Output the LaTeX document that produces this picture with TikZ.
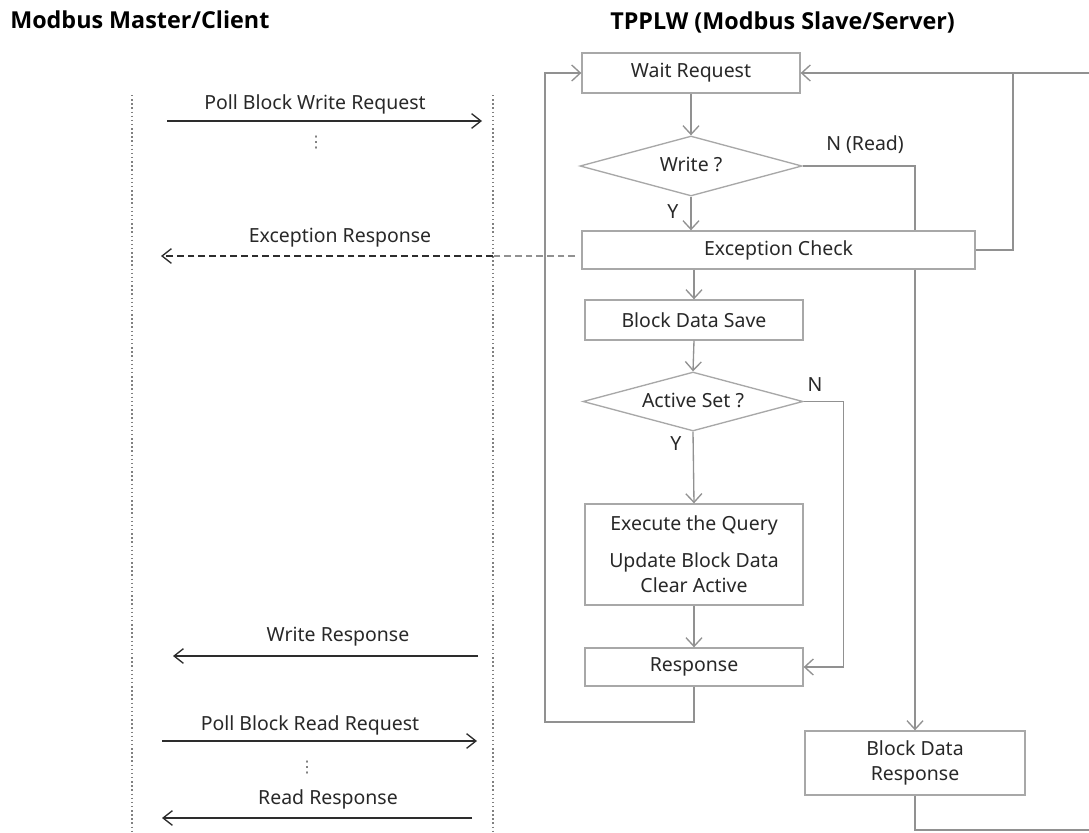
\documentclass[tikz,border=0pt]{standalone}
\usepackage{fontspec}
\setmainfont{Noto Sans}
\newfontfamily\ttlfont{Open Sans}
\newfontfamily\dvfont{DejaVu Sans}
\usetikzlibrary{arrows.meta,shapes.geometric}
\definecolor{boxgray}{RGB}{168,168,168}
\definecolor{flowgray}{RGB}{145,145,145}
\definecolor{ink}{RGB}{40,40,40}
\definecolor{seq}{RGB}{45,45,45}
\def\px{0.75pt}
\begin{document}
\begin{tikzpicture}[x=0.75pt,y=-0.75pt,
  lbl/.style={font=\fontsize{14.6}{18.75}\selectfont,text=ink,inner sep=0pt},
  ttl/.style={font=\ttlfont\bfseries\fontsize{17.5}{20}\selectfont,text=black,inner sep=0pt,anchor=west},
  box/.style={draw=boxgray,line width=1pt,fill=white,font=\fontsize{14.6}{18.75}\selectfont,text=ink,inner sep=0pt,align=center},
  dia/.style={box,shape=diamond,aspect=3.7},
  flowline/.style={draw=flowgray,line width=1pt},
  flow/.style={flowline,-{Straight Barb[length=6.5pt,width=12pt,line width=1pt]}},
  msg/.style={draw=seq,line width=1pt,-{Straight Barb[length=7pt,width=11pt,line width=1pt]}},
  life/.style={draw=gray,line width=1.1pt,dotted},
  vdot/.style={font=\dvfont\fontsize{12}{12}\selectfont,text=gray!80!black,inner sep=0pt}
]
\fill[white] (0,0) rectangle (1089,832);
\useasboundingbox (0,0) rectangle (1089,832);

% titles
\node[ttl] (t1) at (10,20) {Modbus Master/Client};
\node[ttl] (t2) at (610,22) {TPPLW (Modbus Slave/Server)};

% lifelines
\coordinate (l1t) at (132,95); \coordinate (l1b) at (132,832);
\coordinate (l2t) at (493,95); \coordinate (l2b) at (493,832);
\draw[life] (l1t) -- (l1b);
\draw[life] (l2t) -- (l2b);

% flowchart nodes
\node[box,minimum width=218*\px,minimum height=40*\px] (wait) at (691,73) {Wait Request};
\node[dia,minimum width=222*\px,minimum height=60*\px] (write) at (691,166) {\raisebox{3pt}{Write ?}};
\node[box,minimum width=393*\px,minimum height=38*\px] (exc) at (778.5,250) {Exception Check};
\node[box,minimum width=218*\px,minimum height=40*\px] (save) at (694,320) {Block Data Save};
\node[dia,minimum width=220*\px,minimum height=59*\px] (act) at (693,401.5) {\raisebox{2pt}{Active Set ?}};
\node[box,minimum width=218*\px,minimum height=101*\px] (exe) at (694,554.5) {Execute the Query\\[9pt]Update Block Data\\Clear Active};
\node[box,minimum width=218*\px,minimum height=38*\px] (resp) at (694,667) {Response};
\node[box,minimum width=220*\px,minimum height=64*\px] (bdr) at (915,763) {Block Data\\Response};

\coordinate (rt) at (1013,73);
\coordinate (rtop) at (1089,73);
\coordinate (rbot) at (1089,830);
\coordinate (lb) at (545,722);

% flow connectors
\draw[flow] (wait.south) -- (write.north);
\draw[flow] (write.south) -- (exc.north -| write.south);
\draw[flowline] (write.east) -| (exc.north -| bdr.north);
\draw[flow] (exc.south -| bdr.north) -- (bdr.north);
\draw[flow] (exc.south -| save.north) -- (save.north);
\draw[flow] (save.south) -- (act.north);
\draw[flow] (act.south) -- (exe.north);
\draw[flow] (exe.south) -- (resp.north);
\draw[flow] (act.east) -- ++(40,0) |- (resp.east);
\draw[flow] (resp.south) |- (lb) |- (wait.west);
\draw[flow] (exc.east) -| (rt) -- (wait.east);
\draw[flowline] (rtop) -- (rt);
\draw[flowline] (bdr.south) |- (rbot);

% flow labels
\node[lbl] (nread) at (865,145) {N (Read)};
\node[lbl] (y1) at (673,212) {Y};
\node[lbl] (n2) at (815,385) {N};
\node[lbl] (y2) at (676,444) {Y};

% sequence messages
\coordinate (m1a) at (167,121); \coordinate (m1b) at (482,121);
\draw[msg] (m1a) -- (m1b);
\node[lbl] (m1l) at (315,104) {Poll Block Write Request};
\node[vdot] (d1) at (316,143) {⋮};

\coordinate (e0) at (575,256); \coordinate (e1) at (493,256); \coordinate (e2) at (161,256);
\draw[draw=flowgray,line width=1pt,dash pattern=on 5pt off 3pt] (e0) -- (e1);
\draw[msg,dash pattern=on 5pt off 3pt] (e1) -- (e2);
\node[lbl] (el) at (340,238) {Exception Response};

\coordinate (w1) at (478,656); \coordinate (w2) at (173,656);
\draw[msg] (w1) -- (w2);
\node[lbl] (wl) at (338,637) {Write Response};

\coordinate (r1) at (162,741); \coordinate (r2) at (477,741);
\draw[msg] (r1) -- (r2);
\node[lbl] (rl) at (310,725) {Poll Block Read Request};
\node[vdot] (d2) at (307,768) {⋮};

\coordinate (rr1) at (472,818); \coordinate (rr2) at (162,818);
\draw[msg] (rr1) -- (rr2);
\node[lbl] (rrl) at (328,799) {Read Response};
\end{tikzpicture}
\end{document}
